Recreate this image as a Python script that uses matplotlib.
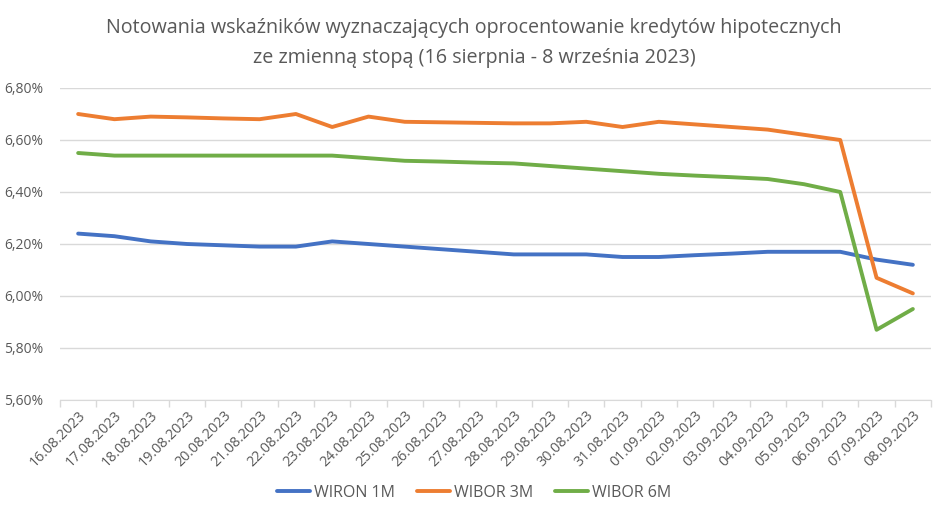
import matplotlib
matplotlib.use("Agg")
import matplotlib.pyplot as plt
from matplotlib.ticker import FixedLocator, FuncFormatter

dates = ["16.08.2023", "17.08.2023", "18.08.2023", "19.08.2023", "20.08.2023",
         "21.08.2023", "22.08.2023", "23.08.2023", "24.08.2023", "25.08.2023",
         "26.08.2023", "27.08.2023", "28.08.2023", "29.08.2023", "30.08.2023",
         "31.08.2023", "01.09.2023", "02.09.2023", "03.09.2023", "04.09.2023",
         "05.09.2023", "06.09.2023", "07.09.2023", "08.09.2023"]

wiron_1m = [6.24, 6.23, 6.21, 6.20, 6.195, 6.19, 6.19, 6.21, 6.20, 6.19,
            6.18, 6.17, 6.16, 6.16, 6.16, 6.15, 6.15, 6.157, 6.163, 6.17,
            6.17, 6.17, 6.14, 6.12]
wibor_3m = [6.70, 6.68, 6.69, 6.687, 6.683, 6.68, 6.70, 6.65, 6.69, 6.67,
            6.668, 6.666, 6.664, 6.664, 6.67, 6.65, 6.67, 6.66, 6.65, 6.64,
            6.62, 6.60, 6.07, 6.01]
wibor_6m = [6.55, 6.54, 6.54, 6.54, 6.54, 6.54, 6.54, 6.54, 6.53, 6.52,
            6.517, 6.513, 6.51, 6.50, 6.49, 6.48, 6.47, 6.463, 6.457, 6.45,
            6.43, 6.40, 5.87, 5.95]

series = [("WIRON 1M", wiron_1m, "#4472C4"),
          ("WIBOR 3M", wibor_3m, "#ED7D31"),
          ("WIBOR 6M", wibor_6m, "#70AD47")]

title = ("Notowania wskaźników wyznaczających oprocentowanie kredytów hipotecznych\n"
         "ze zmienną stopą (16 sierpnia - 8 września 2023)")

plt.rcParams['font.family'] = ['Open Sans', 'DejaVu Sans']

fig = plt.figure(figsize=(9.48, 5.2), dpi=100)
ax = fig.add_axes([60/948, 1-400/520, (931-60)/948, (400-88)/520])

x = list(range(len(dates)))
for name, vals, col in series:
    ax.plot(x, vals, color=col, lw=2.8, label=name, solid_capstyle='round',
            solid_joinstyle='round')

ax.set_xlim(-0.5, len(dates) - 0.5)
ax.set_ylim(5.6, 6.8)
ax.set_yticks([5.6, 5.8, 6.0, 6.2, 6.4, 6.6, 6.8])
ax.yaxis.set_major_formatter(FuncFormatter(lambda v, p: f"{v:.2f}%".replace(".", ",")))
ax.grid(axis='y', color='#d9d9d9', lw=1)
ax.set_axisbelow(True)

ax.set_xticks(x)
ax.set_xticklabels(dates, rotation=45, ha='right', va='top', rotation_mode='anchor')
ax.xaxis.set_minor_locator(FixedLocator([i - 0.5 for i in range(len(dates) + 1)]))
ax.tick_params(axis='x', which='major', length=0, pad=6, labelsize=10.3, colors='#595959')
ax.tick_params(axis='x', which='minor', length=5, color='#d9d9d9', width=1)
ax.tick_params(axis='y', length=0, pad=12, labelsize=10, colors='#595959')

for s in ['top', 'right', 'left']:
    ax.spines[s].set_visible(False)
ax.spines['bottom'].set_color('#d9d9d9')

fig.text(0.5, 1 - 43/520, title, ha='center', va='center', fontsize=14.2,
         color='#595959', linespacing=1.6)

leg = fig.legend(loc='center', bbox_to_anchor=(0.5, 1 - 493/520), ncol=3,
                 frameon=False, fontsize=11.5, handlelength=2.05, columnspacing=1.4,
                 handletextpad=0.25)
for t in leg.get_texts():
    t.set_color('#595959')

fig.savefig("out.png", dpi=100)
